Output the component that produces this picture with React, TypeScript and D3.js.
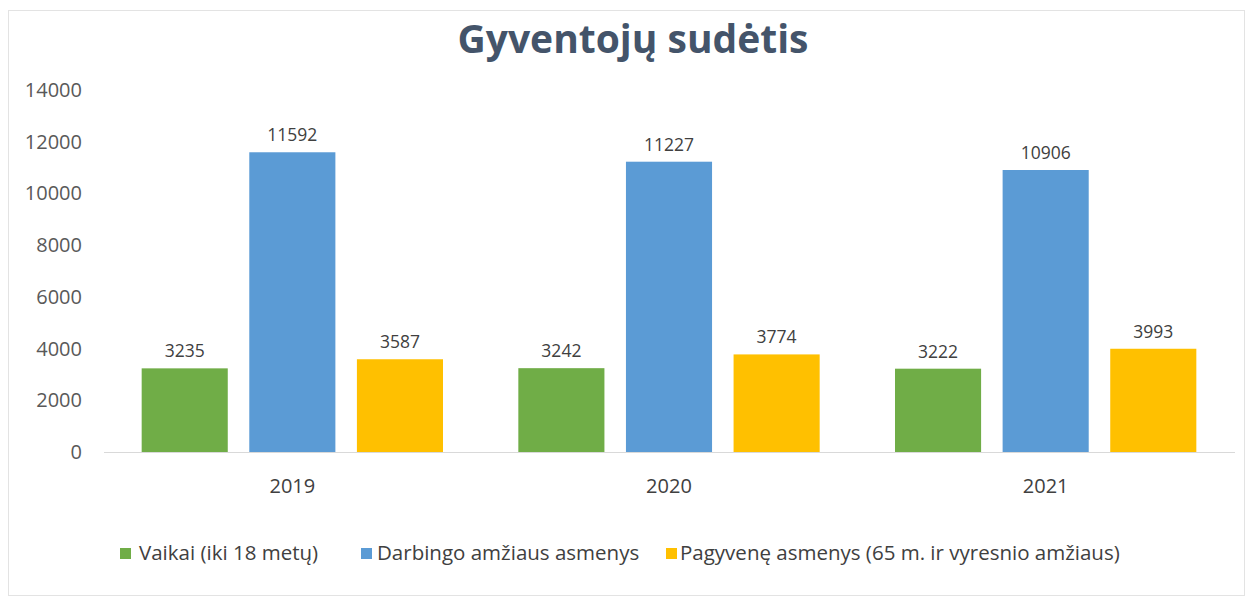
import React from "react";
import * as d3 from "d3";

const categories = ["2019", "2020", "2021"];
const seriesNames = ["Vaikai (iki 18 metų)", "Darbingo amžiaus asmenys", "Pagyvenę asmenys (65 m. ir vyresnio amžiaus)"];
const vaikai = [3235, 3242, 3222];
const darbingo = [11592, 11227, 10906];
const pagyvene = [3587, 3774, 3993];
const yTicks = [0, 2000, 4000, 6000, 8000, 10000, 12000, 14000];
const colors = ["#70AD47", "#5B9BD5", "#FFC000"];

const W = 1246, H = 598;
const font = "'Open Sans', 'Noto Sans', sans-serif";

export default function App() {
  const series = [vaikai, darbingo, pagyvene];
  const x0 = d3.scaleBand().domain(categories).range([104, 1234]).paddingInner(0.2).paddingOuter(0.1);
  const x1 = d3.scaleBand().domain(["0", "1", "2"]).range([0, x0.bandwidth()]).paddingInner(0.2);
  const y = d3.scaleLinear().domain([0, 14000]).range([452, 90]);
  const legendSq = [120, 361, 666];
  const legendTx = [139, 377, 680];
  return (
    <svg width={W} height={H} style={{ position: "absolute", left: 0, top: 0 }}>
      <rect x={0} y={0} width={W} height={H} fill="#fff" />
      <rect x={8.5} y={10.5} width={1236} height={585} fill="#fff" stroke="#e3e3e3" />
      <text x={633} y={53} textAnchor="middle" fontFamily={font} fontWeight={700} fontSize={39} fill="#44546A">Gyventojų sudėtis</text>
      {yTicks.map((t) => (
        <text key={t} x={82} y={y(t) + 7} textAnchor="end" fontFamily={font} fontSize={20} fill="#595959">{t}</text>
      ))}
      <line x1={104} x2={1235} y1={y(0) + 0.5} y2={y(0) + 0.5} stroke="#d9d9d9" />
      {categories.map((c, i) => (
        <g key={c} transform={`translate(${x0(c)},0)`}>
          {series.map((s, j) => (
            <g key={j}>
              <rect x={x1(String(j))} y={y(s[i])} width={x1.bandwidth()} height={y(0) - y(s[i])} fill={colors[j]} />
              <text x={(x1(String(j)) as number) + x1.bandwidth() / 2} y={y(s[i]) - 11} textAnchor="middle" fontFamily={font} fontSize={17.5} fill="#404040">{s[i]}</text>
            </g>
          ))}
          <text x={x0.bandwidth() / 2} y={493} textAnchor="middle" fontFamily={font} fontSize={20} fill="#404040">{c}</text>
        </g>
      ))}
      {seriesNames.map((n, j) => (
        <g key={n}>
          <rect x={legendSq[j]} y={548} width={11} height={11} fill={colors[j]} />
          <text x={legendTx[j]} y={560} fontFamily={font} fontSize={20.5} fill="#404040">{n}</text>
        </g>
      ))}
    </svg>
  );
}
